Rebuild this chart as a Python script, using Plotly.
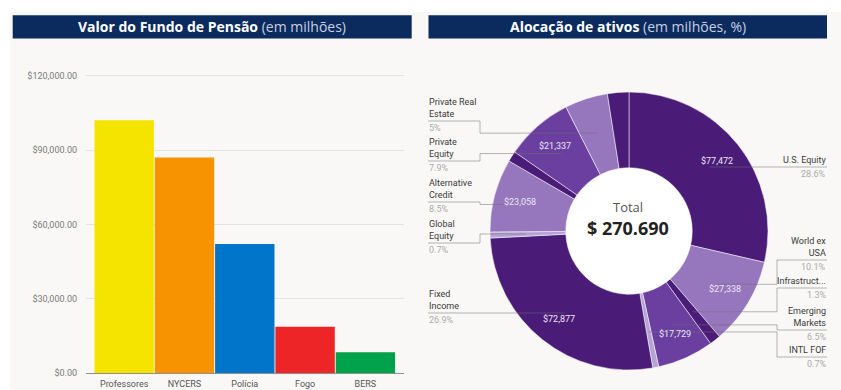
import math
import plotly.graph_objects as go

W, H = 841, 390

# ---- Pension fund values (US$ millions) ----
funds = ["Professores", "NYCERS", "Polícia", "Fogo", "BERS"]
fund_values = [102100, 87100, 52100, 18700, 8400]
fund_colors = ["#f5e400", "#f79200", "#0075c9", "#ee2526", "#00a14b"]
fund_ticks = [0, 30000, 60000, 90000, 120000]

# ---- Asset allocation (US$ millions), clockwise from 12 o'clock ----
assets = ["U.S. Equity", "World ex USA", "Infrastructure", "Emerging Markets", "INTL FOF",
          "Fixed Income", "Global Equity", "Alternative Credit", "Outros (a)",
          "Private Equity", "Private Real Estate", "Outros (b)"]
asset_values = [77472, 27338, 3519, 17729, 1895, 72877, 1895, 23058, 3300, 21337, 13535, 6735]
asset_colors = ["#4a1c78", "#9677bd", "#4a1c78", "#6b3fa0", "#b7a3d6", "#4a1c78",
                "#b7a3d6", "#9677bd", "#4a1c78", "#6b3fa0", "#9677bd", "#4a1c78"]
# slices whose value is printed on the ring
asset_show_value = [True, True, False, True, False, True, False, True, False, True, False, False]
# caption text beside the donut (None = no caption)
asset_captions = ["U.S. Equity", "World ex<br>USA", "Infrastruct...", "Emerging<br>Markets", "INTL FOF",
                  "Fixed<br>Income", "Global<br>Equity", "Alternative<br>Credit", None,
                  "Private<br>Equity", "Private Real<br>Estate", None]

# caption placement: side of the donut and the y (px) of its underline
caption_layout = {
    "U.S. Equity": ("right", 167), "World ex USA": ("right", 260), "Infrastructure": ("right", 288),
    "Emerging Markets": ("right", 330), "INTL FOF": ("right", 357),
    "Fixed Income": ("left", 313), "Global Equity": ("left", 243), "Alternative Credit": ("left", 202),
    "Private Equity": ("left", 161), "Private Real Estate": ("left", 121),
}

BG = "#f9f8f6"
NAVY = "#0b2b5f"
FONT = "Roboto"


def PX(x):
    return x / W


def PY(y):
    return 1 - y / H


# donut geometry in pixels
CX, CY, R = 629, 231, 139
HOLE = 0.455
ANCHOR_R = 0.74 * R
VALUE_R = 0.81 * R
LEFT_COL = (428, 480)
RIGHT_COL = (777, 827)

total = sum(asset_values)

fig = go.Figure()

fig.add_trace(go.Bar(
    x=funds, y=fund_values, marker=dict(color=fund_colors, line=dict(width=0)),
    xaxis="x", yaxis="y", showlegend=False,
    hovertemplate="%{x}: $%{y:,.2f}<extra></extra>",
))

fig.add_trace(go.Pie(
    values=asset_values, labels=assets, sort=False, direction="clockwise", rotation=0,
    hole=HOLE, textinfo="none",
    marker=dict(colors=asset_colors, line=dict(color="rgba(255,255,255,0.5)", width=1)),
    domain=dict(x=[PX(CX - R), PX(CX + R)], y=[PY(CY + R), PY(CY - R)]),
    showlegend=False, hoverinfo="label+value+percent",
))

shapes = [
    dict(type="rect", xref="paper", yref="paper", x0=0, x1=1, y0=PY(12), y1=1,
         fillcolor="white", line=dict(width=0), layer="below"),
    dict(type="rect", xref="paper", yref="paper", x0=0, x1=PX(10), y0=0, y1=1,
         fillcolor="white", line=dict(width=0), layer="below"),
    dict(type="rect", xref="paper", yref="paper", x0=PX(12.7), x1=PX(411.7), y0=PY(38.5), y1=PY(15.3),
         fillcolor=NAVY, line=dict(width=0)),
    dict(type="rect", xref="paper", yref="paper", x0=PX(428.5), x1=PX(827), y0=PY(38.5), y1=PY(15.3),
         fillcolor=NAVY, line=dict(width=0)),
    dict(type="circle", xref="paper", yref="paper",
         x0=PX(CX - HOLE * R), x1=PX(CX + HOLE * R), y0=PY(CY + HOLE * R), y1=PY(CY - HOLE * R),
         fillcolor="white", line=dict(width=0), layer="below"),
]


def note(x, y, text, font, xanchor="center", yanchor="middle", **kw):
    return dict(x=PX(x), y=PY(y), xref="paper", yref="paper", showarrow=False,
                xanchor=xanchor, yanchor=yanchor, text=text, font=font, **kw)


annotations = [
    note(212, 27, "<b>Valor do Fundo de Pensão</b> <span style='color:#c9cfe0'>(em milhões)</span>",
         dict(family="Open Sans", size=14, color="white")),
    note(628, 27, "<b>Alocação de ativos</b> <span style='color:#c9cfe0'>(em milhões, %)</span>",
         dict(family="Open Sans", size=14, color="white")),
    note(CX - 1, CY - 24, "Total", dict(family="Open Sans", size=13, color="#555555")),
    note(CX - 1, CY - 3, "<b>$ " + f"{total:,}".replace(",", ".") + "</b>",
         dict(family="Open Sans", size=18, color="#222222")),
]

LINE = dict(color="rgba(110,110,110,0.5)", width=1)


def fmt_pct(p):
    s = f"{p:.1f}"
    return s[:-2] if s.endswith(".0") else s


cum = 0.0
for name, val, cap, show in zip(assets, asset_values, asset_captions, asset_show_value):
    mid = 2 * math.pi * (cum + val / 2) / total
    cum += val
    if show:
        vx = CX + VALUE_R * math.sin(mid)
        vy = CY - VALUE_R * math.cos(mid)
        annotations.append(note(vx, vy, f"${val:,}", dict(family=FONT, size=9, color="#ece6f5")))
    if cap is None:
        continue
    side, uy = caption_layout[name]
    ax = CX + ANCHOR_R * math.sin(mid)
    ay = CY - ANCHOR_R * math.cos(mid)
    if side == "right":
        inner, outer = RIGHT_COL
    else:
        outer, inner = LEFT_COL
    if abs(ay - uy) < 2:
        path = f"M {PX(ax)} {PY(uy)} L {PX(outer)} {PY(uy)}"
    else:
        path = (f"M {PX(ax)} {PY(ay)} L {PX(inner)} {PY(ay)} "
                f"L {PX(inner)} {PY(uy)} L {PX(outer)} {PY(uy)}")
    shapes.append(dict(type="path", xref="paper", yref="paper", path=path, line=LINE))
    annotations.append(note(outer, uy - 1, cap, dict(family=FONT, size=9, color="#3a3a3a"),
                            xanchor=side, yanchor="bottom", align=side, borderpad=0))
    annotations.append(note(outer, uy + 1, fmt_pct(100 * val / total) + "%",
                            dict(family=FONT, size=9, color="#ababab"),
                            xanchor=side, yanchor="top", align=side, borderpad=0))

fig.update_layout(
    width=W, height=H, autosize=False,
    margin=dict(l=0, r=0, t=0, b=0, autoexpand=False),
    paper_bgcolor=BG, plot_bgcolor="rgba(0,0,0,0)",
    bargap=0.015,
    xaxis=dict(domain=[PX(86), PX(404)], anchor="y", range=[-0.633, 4.64], automargin=False,
               showgrid=False, showline=True, linecolor="#8f8f8f", linewidth=1, ticks="",
               ticklabelstandoff=2,
               tickfont=dict(family=FONT, size=9, color="#555555"), fixedrange=True),
    yaxis=dict(domain=[PY(373), PY(73.5)], anchor="x", range=[0, 121000], automargin=False,
               tickvals=fund_ticks, tickformat="$,.2f", showgrid=True, gridcolor="#e4e3e1",
               gridwidth=1, zeroline=False, showline=False, ticks="", ticklabelstandoff=8,
               tickfont=dict(family=FONT, size=9, color="#7a7a7a"), fixedrange=True),
    shapes=shapes,
    annotations=annotations,
)

fig.write_html("out.html")
